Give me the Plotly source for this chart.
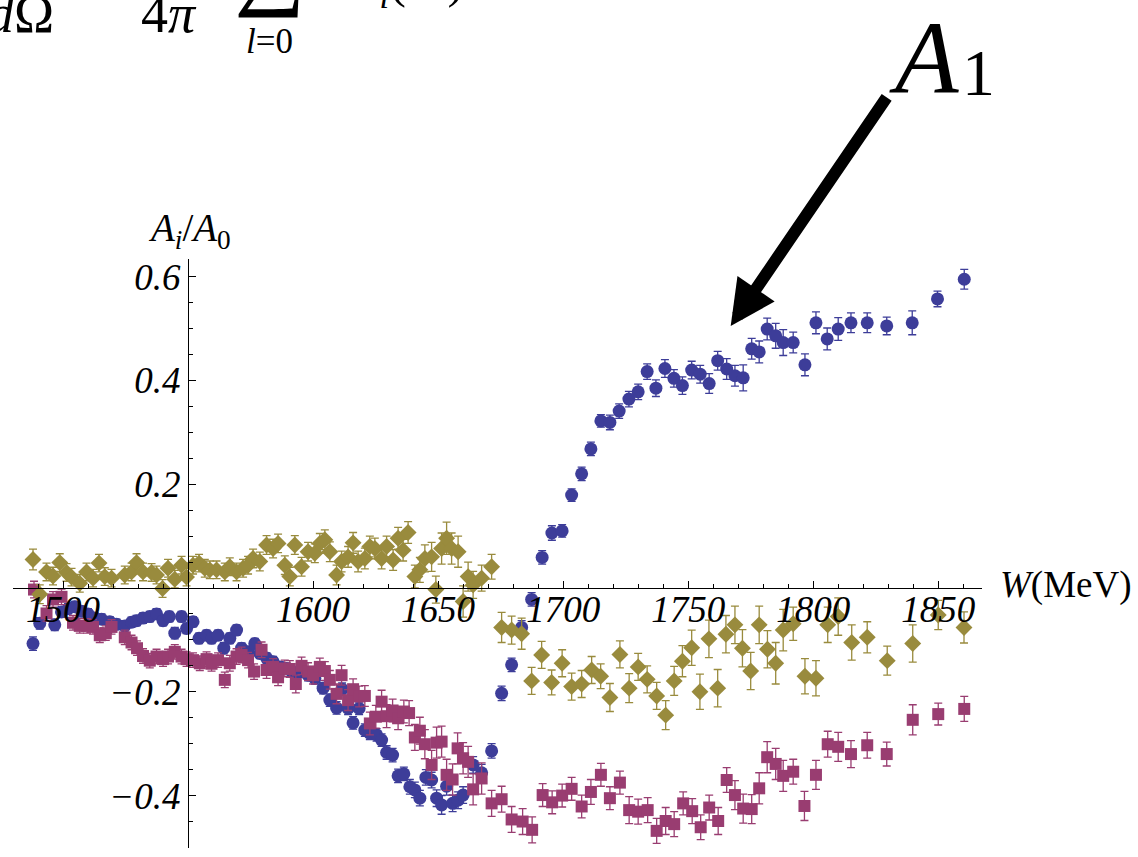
import plotly.graph_objects as go

# (W [MeV], A_i/A_0, error)
a1_points = [
(1488.0,-0.107,0.013),(1490.7,-0.068,0.011),(1496.7,-0.071,0.011),(1499.4,-0.046,0.010),(1502.0,-0.040,0.010),
(1504.7,-0.036,0.010),(1507.4,-0.045,0.010),(1510.0,-0.050,0.010),(1512.7,-0.058,0.010),(1515.4,-0.060,0.010),
(1518.7,-0.065,0.010),(1521.4,-0.070,0.010),(1524.7,-0.073,0.010),(1527.4,-0.066,0.010),(1529.4,-0.063,0.010),
(1532.0,-0.058,0.010),(1534.7,-0.055,0.010),(1537.4,-0.050,0.010),(1540.0,-0.063,0.010),(1542.5,-0.055,0.010),
(1544.7,-0.087,0.011),(1547.4,-0.055,0.010),(1549.4,-0.078,0.010),(1552.0,-0.065,0.010),(1554.4,-0.097,0.010),
(1557.4,-0.091,0.010),(1559.4,-0.097,0.010),(1562.0,-0.091,0.010),(1564.3,-0.116,0.011),(1566.7,-0.097,0.010),
(1569.4,-0.081,0.010),(1571.4,-0.116,0.010),(1574.0,-0.123,0.010),(1576.7,-0.107,0.010),(1578.7,-0.126,0.010),
(1581.4,-0.135,0.010),(1584.0,-0.142,0.010),(1586.7,-0.152,0.010),(1589.4,-0.155,0.010),(1591.4,-0.161,0.010),
(1593.4,-0.164,0.010),(1596.0,-0.161,0.011),(1598.0,-0.168,0.011),(1600.7,-0.174,0.011),(1604.0,-0.193,0.011),
(1606.7,-0.216,0.012),(1609.4,-0.231,0.012),(1611.6,-0.195,0.012),(1614.0,-0.232,0.012),(1616.0,-0.260,0.012),
(1618.4,-0.232,0.012),(1620.7,-0.274,0.012),(1622.7,-0.280,0.012),(1625.4,-0.283,0.012),(1627.4,-0.293,0.012),
(1629.4,-0.317,0.013),(1631.8,-0.322,0.013),(1634.0,-0.362,0.013),(1636.3,-0.358,0.013),(1638.7,-0.383,0.014),
(1640.7,-0.389,0.015),(1642.7,-0.405,0.015),(1645.1,-0.365,0.015),(1647.4,-0.370,0.015),(1649.4,-0.405,0.016),
(1651.4,-0.418,0.018),(1653.4,-0.382,0.017),(1655.8,-0.415,0.016),(1658.0,-0.409,0.016),(1660.0,-0.399,0.016),
(1664.0,-0.341,0.016),(1667.4,-0.356,0.016),(1671.4,-0.314,0.014),(1675.4,-0.203,0.014),(1679.4,-0.148,0.013),
(1683.4,-0.076,0.013),(1687.4,-0.022,0.013),(1691.6,0.059,0.013),(1695.5,0.106,0.014),(1699.6,0.110,0.012),
(1703.4,0.179,0.012),(1707.4,0.220,0.013),(1711.1,0.268,0.013),(1715.1,0.322,0.012),(1718.7,0.319,0.014),
(1722.4,0.341,0.014),(1726.3,0.364,0.015),(1730.0,0.378,0.015),(1733.6,0.417,0.015),(1737.1,0.385,0.016),
(1740.7,0.423,0.017),(1744.3,0.404,0.017),(1747.7,0.390,0.017),(1751.4,0.420,0.017),(1754.8,0.412,0.017),
(1758.4,0.394,0.019),(1761.8,0.438,0.018),(1765.4,0.422,0.020),(1768.7,0.409,0.020),(1772.0,0.405,0.025),
(1775.4,0.461,0.020),(1778.4,0.455,0.021),(1781.6,0.499,0.021),(1785.0,0.486,0.024),(1788.0,0.473,0.025),
(1792.0,0.473,0.020),(1796.7,0.430,0.021),(1801.1,0.511,0.021),(1805.6,0.480,0.021),(1810.0,0.499,0.022),
(1815.1,0.511,0.019),(1821.6,0.511,0.019),(1829.4,0.505,0.017),(1839.6,0.511,0.023),(1849.7,0.557,0.015),
(1860.4,0.595,0.019),
]

a2_points = [
(1488.4,-0.003,0.016),(1493.4,-0.049,0.015),(1496.0,-0.022,0.015),(1499.4,-0.017,0.015),(1504.0,-0.067,0.014),
(1506.7,-0.073,0.014),(1509.6,-0.073,0.014),(1512.0,-0.075,0.014),(1514.7,-0.091,0.014),(1517.1,-0.087,0.014),
(1519.4,-0.075,0.014),(1524.7,-0.095,0.014),(1527.4,-0.105,0.014),(1529.6,-0.116,0.014),(1532.0,-0.131,0.014),
(1534.7,-0.140,0.014),(1537.4,-0.132,0.014),(1540.0,-0.137,0.014),(1542.0,-0.132,0.014),(1544.7,-0.123,0.014),
(1547.4,-0.132,0.014),(1549.4,-0.137,0.014),(1552.0,-0.139,0.014),(1554.7,-0.145,0.014),(1557.4,-0.137,0.014),
(1559.4,-0.146,0.014),(1562.0,-0.139,0.014),(1564.7,-0.177,0.015),(1566.7,-0.145,0.015),(1569.4,-0.132,0.015),
(1571.4,-0.129,0.015),(1574.0,-0.139,0.015),(1576.4,-0.161,0.015),(1579.4,-0.119,0.015),(1581.4,-0.158,0.016),
(1584.0,-0.152,0.016),(1586.0,-0.172,0.016),(1588.7,-0.155,0.016),(1590.7,-0.156,0.016),(1593.1,-0.185,0.017),
(1595.4,-0.150,0.017),(1598.0,-0.161,0.017),(1600.0,-0.168,0.017),(1602.7,-0.152,0.017),(1604.7,-0.160,0.018),
(1606.7,-0.177,0.018),(1609.4,-0.204,0.019),(1611.4,-0.168,0.019),(1614.0,-0.216,0.020),(1616.0,-0.195,0.020),
(1618.4,-0.209,0.020),(1620.7,-0.208,0.020),(1622.7,-0.261,0.022),(1625.1,-0.248,0.022),(1627.4,-0.219,0.022),
(1629.4,-0.247,0.022),(1631.8,-0.236,0.022),(1634.0,-0.251,0.022),(1636.3,-0.238,0.022),(1638.4,-0.241,0.024),
(1640.7,-0.288,0.025),(1642.7,-0.275,0.026),(1644.7,-0.301,0.028),(1647.4,-0.341,0.028),(1649.4,-0.298,0.030),
(1651.4,-0.296,0.030),(1653.4,-0.360,0.030),(1655.8,-0.369,0.030),(1657.8,-0.309,0.030),(1660.0,-0.328,0.030),
(1662.0,-0.335,0.030),(1664.0,-0.388,0.030),(1667.4,-0.367,0.030),(1671.4,-0.415,0.025),(1675.4,-0.407,0.025),
(1679.4,-0.446,0.025),(1683.8,-0.450,0.025),(1687.6,-0.466,0.025),(1691.8,-0.399,0.022),(1695.6,-0.413,0.022),
(1699.6,-0.400,0.022),(1703.4,-0.387,0.022),(1707.4,-0.421,0.022),(1711.1,-0.393,0.024),(1715.1,-0.360,0.022),
(1718.7,-0.405,0.022),(1722.7,-0.375,0.022),(1726.4,-0.428,0.026),(1730.0,-0.431,0.024),(1733.8,-0.428,0.024),
(1737.4,-0.468,0.024),(1741.0,-0.449,0.026),(1744.4,-0.455,0.024),(1748.0,-0.415,0.022),(1751.6,-0.430,0.024),
(1755.0,-0.461,0.024),(1758.4,-0.423,0.024),(1762.0,-0.449,0.026),(1765.4,-0.370,0.024),(1768.7,-0.399,0.028),
(1772.0,-0.425,0.028),(1775.4,-0.426,0.028),(1778.4,-0.386,0.030),(1781.6,-0.326,0.030),(1785.0,-0.339,0.030),
(1788.0,-0.362,0.030),(1792.0,-0.354,0.024),(1796.5,-0.420,0.028),(1801.1,-0.360,0.028),(1805.8,-0.301,0.025),
(1810.0,-0.306,0.028),(1815.1,-0.320,0.026),(1821.6,-0.303,0.025),(1829.4,-0.320,0.023),(1839.8,-0.254,0.029),
(1850.0,-0.243,0.021),(1860.4,-0.233,0.024),
]

a3_points = [
(1488.0,0.055,0.020),(1490.7,-0.012,0.018),(1493.4,0.031,0.017),(1496.0,0.023,0.017),(1498.7,0.049,0.017),
(1501.4,0.030,0.017),(1503.4,0.021,0.017),(1506.7,0.009,0.017),(1509.4,0.031,0.017),(1512.0,0.019,0.017),
(1514.4,0.048,0.017),(1516.7,0.022,0.017),(1519.4,0.019,0.017),(1524.7,0.025,0.017),(1527.4,0.031,0.017),
(1529.4,0.049,0.017),(1532.0,0.031,0.017),(1535.4,0.030,0.017),(1537.4,0.025,0.017),(1539.8,-0.001,0.017),
(1542.0,0.038,0.017),(1544.7,0.017,0.017),(1547.4,0.044,0.017),(1549.4,0.021,0.017),(1552.0,0.044,0.017),
(1554.4,0.048,0.017),(1556.7,0.038,0.017),(1558.7,0.035,0.017),(1561.4,0.035,0.017),(1564.7,0.031,0.017),
(1566.7,0.041,0.017),(1569.4,0.031,0.017),(1572.0,0.038,0.017),(1574.0,0.044,0.017),(1576.0,0.057,0.018),
(1578.7,0.051,0.018),(1581.4,0.083,0.018),(1584.0,0.076,0.018),(1586.0,0.086,0.018),(1588.7,0.044,0.018),
(1590.7,0.022,0.018),(1592.7,0.083,0.018),(1595.4,0.041,0.018),(1598.0,0.070,0.018),(1600.7,0.067,0.018),
(1602.7,0.086,0.019),(1604.7,0.093,0.019),(1606.7,0.070,0.019),(1609.4,0.025,0.019),(1611.4,0.051,0.020),
(1614.0,0.060,0.020),(1616.0,0.087,0.020),(1618.0,0.051,0.020),(1620.7,0.057,0.020),(1622.7,0.080,0.020),
(1624.7,0.076,0.020),(1627.4,0.057,0.020),(1629.4,0.080,0.020),(1632.0,0.054,0.020),(1634.0,0.096,0.021),
(1636.0,0.073,0.021),(1638.0,0.107,0.021),(1640.7,0.022,0.022),(1642.7,0.035,0.024),(1644.7,0.057,0.026),
(1647.4,0.060,0.028),(1649.1,-0.003,0.026),(1651.4,0.076,0.030),(1653.4,0.096,0.031),(1655.4,0.076,0.030),
(1658.0,0.070,0.030),(1660.0,-0.026,0.030),(1662.0,0.022,0.028),(1664.0,0.006,0.026),(1667.4,0.019,0.025),
(1671.4,0.041,0.024),(1675.4,-0.076,0.029),(1679.4,-0.081,0.027),(1683.4,-0.088,0.030),(1687.4,-0.179,0.026),
(1691.4,-0.129,0.026),(1695.4,-0.182,0.024),(1699.6,-0.145,0.026),(1703.4,-0.190,0.026),(1707.4,-0.185,0.026),
(1711.4,-0.158,0.026),(1715.0,-0.170,0.024),(1718.7,-0.211,0.027),(1722.7,-0.128,0.026),(1726.4,-0.193,0.028),
(1730.0,-0.152,0.026),(1733.6,-0.176,0.026),(1737.4,-0.208,0.026),(1741.0,-0.245,0.028),(1744.4,-0.179,0.028),
(1747.7,-0.141,0.030),(1751.4,-0.115,0.034),(1754.7,-0.200,0.034),(1758.3,-0.098,0.036),(1761.8,-0.193,0.036),
(1765.1,-0.089,0.036),(1768.7,-0.071,0.036),(1771.7,-0.116,0.036),(1775.0,-0.160,0.036),(1778.4,-0.071,0.036),
(1781.7,-0.118,0.036),(1785.0,-0.145,0.040),(1788.0,-0.081,0.040),(1792.0,-0.069,0.032),(1796.7,-0.170,0.034),
(1801.1,-0.174,0.034),(1805.8,-0.071,0.034),(1810.0,-0.055,0.036),(1815.4,-0.105,0.034),(1821.6,-0.095,0.030),
(1829.6,-0.140,0.028),(1839.8,-0.107,0.036),(1850.0,-0.052,0.028),(1860.3,-0.076,0.030),
]

x_tickvals = [1500, 1550, 1600, 1650, 1700, 1750, 1800, 1850]
x_ticktext = ["1500", "", "1600", "1650", "1700", "1750", "1800", "1850"]
y_tickvals = [-0.4, -0.2, 0.0, 0.2, 0.4, 0.6]
y_ticktext = ["\u22120.4", "\u22120.2", "", "0.2", "0.4", "0.6"]

X_RANGE = [1480.0, 1867.5]
Y_RANGE = [-0.501, 0.634]
Y_AXIS_AT = 1550.0

C_BLUE = "#3d3d99"
C_MAG = "#993d71"
C_GOLD = "#998b3d"

W, H = 1138, 857
ML, MR, MT, MB = 13, 156, 259, 9
PW, PH = W - ML - MR, H - MT - MB


def px(x):
    return (x - ML) / PW


def py(y):
    return (H - MB - y) / PH


fig = go.Figure()

series = [
    (a1_points, C_BLUE, "circle", 13),
    (a2_points, C_MAG, "square", 12),
    (a3_points, C_GOLD, "diamond", 13),
]
for pts, col, sym, size in series:
    xs = [p[0] for p in pts]
    ys = [p[1] for p in pts]
    es = [p[2] for p in pts]
    fig.add_trace(go.Scatter(
        x=xs, y=ys, mode="markers",
        marker=dict(color=col, symbol=sym, size=size, line=dict(width=0)),
        error_y=dict(type="data", array=es, visible=True, color=col, thickness=1.3, width=4),
        showlegend=False, cliponaxis=False,
    ))

serif = "Liberation Serif, Times New Roman, serif"
tickfont = dict(family=serif, size=37, color="black", style="italic")

fig.update_layout(
    width=W, height=H,
    margin=dict(l=ML, r=MR, t=MT, b=MB),
    paper_bgcolor="white", plot_bgcolor="white",
    xaxis=dict(
        range=X_RANGE, anchor="free",
        position=(0 - Y_RANGE[0]) / (Y_RANGE[1] - Y_RANGE[0]),
        showgrid=False, zeroline=False, showline=True, linecolor="black", linewidth=1.3,
        tickmode="array", tickvals=x_tickvals, ticktext=x_ticktext,
        ticks="inside", ticklen=7, tickwidth=1, tickcolor="black",
        minor=dict(tickmode="linear", tick0=1480, dtick=10, ticks="inside", ticklen=4, tickcolor="black", tickwidth=1, showgrid=False),
        tickfont=tickfont, ticklabelstandoff=-12,
    ),
    yaxis=dict(
        range=Y_RANGE, anchor="free",
        position=(Y_AXIS_AT - X_RANGE[0]) / (X_RANGE[1] - X_RANGE[0]),
        showgrid=False, zeroline=False, showline=True, linecolor="black", linewidth=1.3,
        tickmode="array", tickvals=y_tickvals, ticktext=y_ticktext,
        ticks="inside", ticklen=7, tickwidth=1, tickcolor="black",
        minor=dict(tickmode="linear", tick0=0, dtick=0.05, ticks="inside", ticklen=4, tickcolor="black", tickwidth=1, showgrid=False),
        tickfont=tickfont,
    ),
)

ann = []
# axis labels
ann.append(dict(text="<i>A</i><sub><i>i</i></sub>/<i>A</i><sub>0</sub>", x=px(189), y=py(230),
                xref="paper", yref="paper", showarrow=False, xanchor="center", yanchor="middle",
                font=dict(family=serif, size=39, color="black")))
ann.append(dict(text="<i>W</i>(MeV)", x=px(998), y=py(585),
                xref="paper", yref="paper", showarrow=False, xanchor="left", yanchor="middle",
                font=dict(family=serif, size=37, color="black")))
# big A_1 label
ann.append(dict(text="<i>A</i>", x=px(924), y=py(57), xref="paper", yref="paper", showarrow=False,
                xanchor="center", yanchor="middle", font=dict(family=serif, size=104, color="black")))
ann.append(dict(text="1", x=px(978), y=py(72), xref="paper", yref="paper", showarrow=False,
                xanchor="center", yanchor="middle", font=dict(family=serif, size=66, color="black")))
# arrow pointing to the A1 data
ann.append(dict(text="", x=1767.0, y=0.505, xref="x", yref="y", showarrow=True,
                ax=157, ay=-230, axref="pixel", ayref="pixel",
                arrowhead=2, arrowsize=0.75, arrowwidth=12, arrowcolor="black", standoff=0))
# partially visible formula at the top
ann.append(dict(text="<i>d</i>\u03a9", x=px(56), y=py(14), xref="paper", yref="paper", showarrow=False,
                xanchor="right", yanchor="middle", font=dict(family=serif, size=54, color="black")))
ann.append(dict(text="4<i>\u03c0</i>", x=px(169), y=py(14), xref="paper", yref="paper", showarrow=False,
                xanchor="center", yanchor="middle", font=dict(family=serif, size=54, color="black")))
ann.append(dict(text="\u2211", x=px(269), y=py(-38), xref="paper", yref="paper", showarrow=False,
                xanchor="center", yanchor="middle", font=dict(family=serif, size=100, color="black")))
ann.append(dict(text="<i>l</i>=0", x=px(269), y=py(42), xref="paper", yref="paper", showarrow=False,
                xanchor="center", yanchor="middle", font=dict(family=serif, size=35, color="black")))
ann.append(dict(text="<i>A</i><sub><i>l</i></sub>(<i>W</i>)", x=px(405), y=py(-16), xref="paper", yref="paper",
                showarrow=False, xanchor="center", yanchor="middle", font=dict(family=serif, size=50, color="black")))
fig.update_layout(annotations=ann)

fig.write_html("out.html")
